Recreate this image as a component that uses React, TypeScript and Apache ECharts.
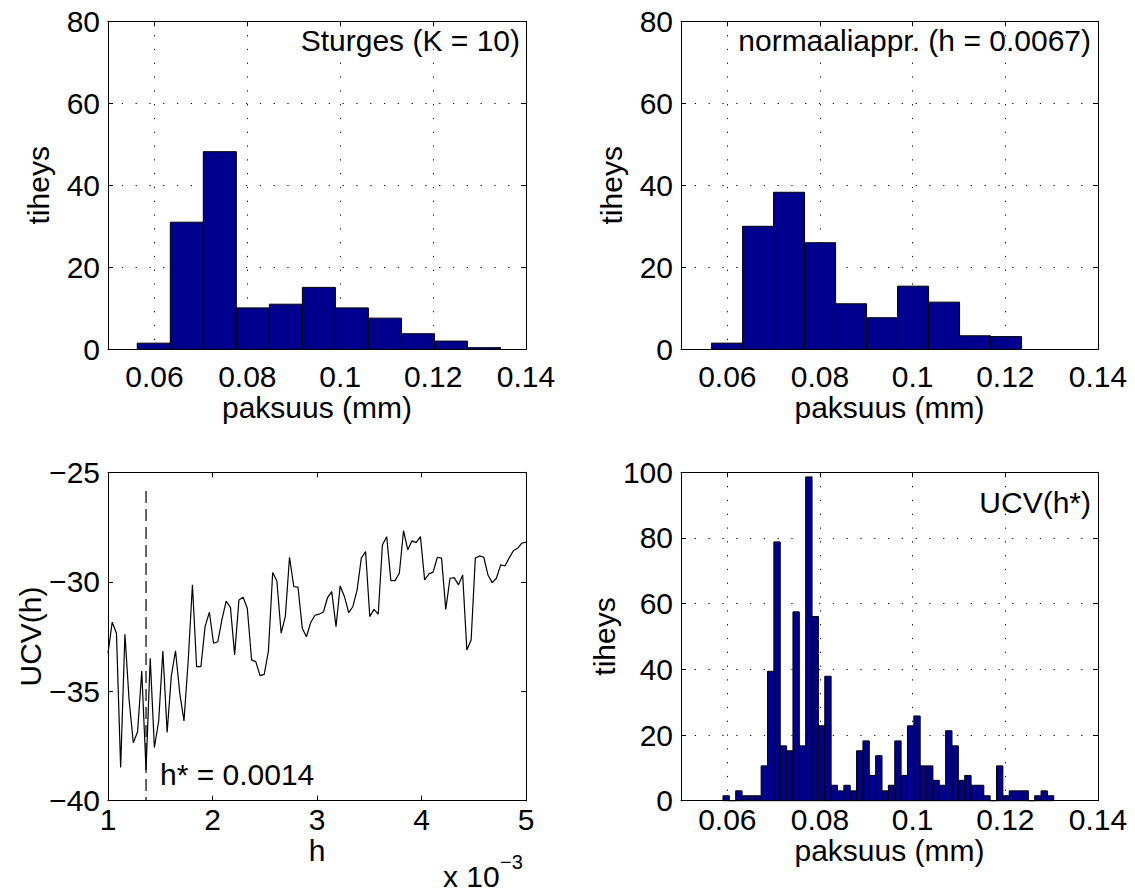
import React, { useEffect, useRef } from "react";
import * as echarts from "echarts";

// ---------- data ----------
const thicknessTicks = [0.06, 0.08, 0.1, 0.12, 0.14];

// Sturges histogram (K = 10)
const sturgesStart = 0.0563;
const sturgesWidth = 0.00711;
const sturgesDensity = [1.5, 31.0, 48.2, 10.1, 11.0, 15.1, 10.1, 7.6, 3.8, 2.0, 0.4];

// normal-approximation histogram (h = 0.0067)
const normalStart = 0.0566;
const normalWidth = 0.00669;
const normalDensity = [1.5, 30.0, 38.3, 26.0, 11.1, 7.7, 15.4, 11.5, 3.3, 3.1];

// UCV(h*) histogram
const ucvStart = 0.05906;
const ucvWidth = 0.001373;
const ucvDensity = [
  1.5, 0, 3.0, 1.5, 1.5, 1.5, 10.6, 39.4, 78.8, 16.7, 15.2, 57.5, 16.7, 98.6, 56.1, 22.8,
  37.9, 4.7, 3.0, 4.7, 3.0, 15.2, 18.2, 7.7, 13.7, 3.0, 4.7, 18.2, 7.7, 22.8, 25.8, 10.6,
  10.6, 6.2, 4.7, 21.3, 16.7, 6.2, 7.7, 4.7, 4.7, 1.5, 0, 10.6, 1.5, 3.0, 3.0, 3.0, 0, 1.5,
  3.0, 1.5,
];

// UCV(h) curve, h in units of 1e-3
const hValues = [
  1.0, 1.04, 1.081, 1.121, 1.162, 1.202, 1.242, 1.283, 1.323, 1.364, 1.404, 1.444, 1.485,
  1.525, 1.566, 1.606, 1.646, 1.687, 1.727, 1.768, 1.808, 1.848, 1.889, 1.929, 1.97, 2.01,
  2.051, 2.091, 2.131, 2.172, 2.212, 2.253, 2.293, 2.333, 2.374, 2.414, 2.455, 2.495, 2.535,
  2.576, 2.616, 2.657, 2.697, 2.737, 2.778, 2.818, 2.859, 2.899, 2.939, 2.98, 3.02, 3.061,
  3.101, 3.141, 3.182, 3.222, 3.263, 3.303, 3.343, 3.384, 3.424, 3.465, 3.505, 3.545, 3.586,
  3.626, 3.667, 3.707, 3.747, 3.788, 3.828, 3.869, 3.909, 3.949, 3.99, 4.03, 4.071, 4.111,
  4.152, 4.192, 4.232, 4.273, 4.313, 4.354, 4.394, 4.434, 4.475, 4.515, 4.556, 4.596, 4.636,
  4.677, 4.717, 4.758, 4.798, 4.838, 4.879, 4.919, 4.96, 5.0,
];
const ucvValues = [
  -33.27, -31.85, -32.35, -38.48, -32.4, -35.4, -37.35, -36.85, -34.08, -38.6, -33.5, -37.57,
  -36.36, -33.16, -36.88, -34.3, -33.15, -35.1, -36.36, -33.57, -30.14, -33.88, -33.88, -32.05,
  -31.39, -32.81, -32.74, -31.71, -30.88, -31.18, -33.34, -30.83, -30.71, -31.21, -33.57,
  -33.65, -34.29, -34.23, -33.17, -29.58, -29.97, -32.35, -31.58, -28.88, -30.22, -30.24,
  -32.12, -32.51, -31.87, -31.53, -31.48, -31.38, -30.72, -30.45, -32.05, -30.19, -30.68,
  -31.41, -31.14, -30.37, -28.92, -28.62, -31.59, -31.26, -31.48, -28.32, -27.94, -29.95,
  -29.95, -29.61, -27.67, -28.54, -28.13, -28.21, -27.94, -29.92, -29.64, -29.56, -28.88,
  -28.92, -31.26, -29.84, -29.81, -30.14, -29.69, -33.12, -32.66, -28.92, -28.82, -28.88,
  -29.69, -30.04, -29.84, -29.23, -29.28, -28.92, -28.58, -28.47, -28.24, -28.19,
];
const hStar = 1.364;
const hStarLine = [-25.85, -40];

// ---------- styling ----------
const FONT = "'Liberation Sans', Arial, Helvetica, sans-serif";
const FS = 30;
const BLUE = "#00008F";
const BLACK = "#000";
const txt = { fontFamily: FONT, fontSize: FS, color: BLACK, lineHeight: FS };
const dotted = { color: BLACK, width: 1, type: [1.2, 12.6] as any };

const histData = (start: number, width: number, dens: number[]) =>
  dens.map((d, i) => [start + i * width, start + (i + 1) * width, d]);

const renderBar = (_params: any, api: any) => {
  const a = api.coord([api.value(0), api.value(2)]);
  const b = api.coord([api.value(1), 0]);
  return {
    type: "rect",
    shape: { x: a[0], y: a[1], width: b[0] - a[0], height: b[1] - a[1] },
    style: { fill: BLUE, stroke: BLACK, lineWidth: 1 },
  };
};

const minusFmt = (v: number) => (v < 0 ? "\u2212" + Math.abs(v) : String(v));

function xPair(grid: number, min: number, max: number, name: string, o: any) {
  const tickCfg: any = { show: true, inside: true, length: 5, lineStyle: { color: BLACK, width: 1 } };
  if (o.custom) tickCfg.customValues = o.custom;
  const labelCfg: any = { ...txt, margin: o.margin, formatter: o.fmt };
  if (o.custom) labelCfg.customValues = o.custom;
  const common = {
    type: "value",
    gridIndex: grid,
    min,
    max,
    interval: o.interval,
    axisLine: { show: true, onZero: false, lineStyle: { color: BLACK, width: 1 } },
  };
  return [
    {
      ...common,
      position: "bottom",
      name,
      nameLocation: "middle",
      nameGap: o.nameGap,
      nameTextStyle: txt,
      axisTick: tickCfg,
      axisLabel: labelCfg,
      splitLine: o.grid ? { show: true, lineStyle: dotted } : { show: false },
    },
    {
      ...common,
      position: "top",
      axisTick: tickCfg,
      axisLabel: { show: false, customValues: o.custom },
      splitLine: { show: false },
    },
  ];
}

function yPair(grid: number, min: number, max: number, interval: number, name: string, o: any) {
  const common = {
    type: "value",
    gridIndex: grid,
    min,
    max,
    interval,
    axisLine: { show: true, onZero: false, lineStyle: { color: BLACK, width: 1 } },
    axisTick: { show: true, inside: true, length: 5, lineStyle: { color: BLACK, width: 1 } },
  };
  return [
    {
      ...common,
      position: "left",
      name,
      nameLocation: "middle",
      nameGap: o.nameGap,
      nameRotate: 90,
      nameTextStyle: txt,
      axisLabel: { ...txt, margin: 8, formatter: o.fmt },
      splitLine: o.grid ? { show: true, lineStyle: dotted } : { show: false },
    },
    {
      ...common,
      position: "right",
      axisLabel: { show: false },
      splitLine: { show: false },
    },
  ];
}

export default function App() {
  const ref = useRef<HTMLDivElement>(null);

  useEffect(() => {
    if (!ref.current) return;
    const chart = echarts.init(ref.current, undefined, { renderer: "svg" });

    const option: any = {
      animation: false,
      backgroundColor: "#fff",
      grid: [
        { left: 108, top: 21.3, width: 418, height: 328 },
        { left: 681, top: 21.3, width: 417, height: 328 },
        { left: 108, top: 472.3, width: 418, height: 328.4 },
        { left: 681, top: 472.3, width: 417, height: 328.4 },
      ],
      xAxis: [
        ...xPair(0, 0.05, 0.14, "paksuus (mm)", { custom: thicknessTicks, margin: 12, nameGap: 40, grid: true }),
        ...xPair(1, 0.05, 0.14, "paksuus (mm)", { custom: thicknessTicks, margin: 12, nameGap: 40, grid: true }),
        ...xPair(2, 1, 5, "h", { interval: 1, margin: 4, nameGap: 34, grid: false }),
        ...xPair(3, 0.05, 0.14, "paksuus (mm)", { custom: thicknessTicks, margin: 4, nameGap: 34, grid: true }),
      ],
      yAxis: [
        ...yPair(0, 0, 80, 20, "tiheys", { nameGap: 55, grid: true }),
        ...yPair(1, 0, 80, 20, "tiheys", { nameGap: 55, grid: true }),
        ...yPair(2, -40, -25, 5, "UCV(h)", { nameGap: 55, grid: false, fmt: minusFmt }),
        ...yPair(3, 0, 100, 20, "tiheys", { nameGap: 55, grid: true }),
      ],
      series: [
        {
          type: "custom",
          xAxisIndex: 0,
          yAxisIndex: 0,
          renderItem: renderBar,
          encode: { x: [0, 1], y: 2 },
          data: histData(sturgesStart, sturgesWidth, sturgesDensity),
          z: 5,
        },
        {
          type: "custom",
          xAxisIndex: 2,
          yAxisIndex: 2,
          renderItem: renderBar,
          encode: { x: [0, 1], y: 2 },
          data: histData(normalStart, normalWidth, normalDensity),
          z: 5,
        },
        {
          type: "line",
          xAxisIndex: 4,
          yAxisIndex: 4,
          showSymbol: false,
          symbol: "none",
          lineStyle: { color: BLACK, width: 1.2 },
          data: hValues.map((h, i) => [h, ucvValues[i]]),
          z: 5,
        },
        {
          type: "line",
          xAxisIndex: 4,
          yAxisIndex: 4,
          showSymbol: false,
          symbol: "none",
          lineStyle: { color: BLACK, width: 1.2, type: [12, 6] },
          data: hStarLine.map((v) => [hStar, v]),
          z: 5,
        },
        {
          type: "custom",
          xAxisIndex: 6,
          yAxisIndex: 6,
          renderItem: renderBar,
          encode: { x: [0, 1], y: 2 },
          data: histData(ucvStart, ucvWidth, ucvDensity),
          z: 5,
        },
      ],
      graphic: [
        {
          type: "text",
          x: 520,
          y: 40,
          style: { text: "Sturges (K = 10)", font: `${FS}px ${FONT}`, fill: BLACK, textAlign: "right", textVerticalAlign: "middle" },
        },
        {
          type: "text",
          x: 1091,
          y: 40,
          style: { text: "normaaliappr. (h = 0.0067)", font: `${FS}px ${FONT}`, fill: BLACK, textAlign: "right", textVerticalAlign: "middle" },
        },
        {
          type: "text",
          x: 1091,
          y: 502,
          style: { text: "UCV(h*)", font: `${FS}px ${FONT}`, fill: BLACK, textAlign: "right", textVerticalAlign: "middle" },
        },
        {
          type: "text",
          x: 160,
          y: 774,
          style: { text: "h* = 0.0014", font: `${FS}px ${FONT}`, fill: BLACK, textAlign: "left", textVerticalAlign: "middle" },
        },
        {
          type: "text",
          x: 443,
          y: 876,
          style: { text: "x 10", font: `${FS}px ${FONT}`, fill: BLACK, textAlign: "left", textVerticalAlign: "middle" },
        },
        {
          type: "text",
          x: 500,
          y: 862,
          style: { text: "\u22123", font: `20px ${FONT}`, fill: BLACK, textAlign: "left", textVerticalAlign: "middle" },
        },
      ],
    };

    chart.setOption(option);
    return () => chart.dispose();
  }, []);

  return (
    <div
      ref={ref}
      style={{ position: "fixed", left: 0, top: 0, width: 1135, height: 893, background: "#fff" }}
    />
  );
}
